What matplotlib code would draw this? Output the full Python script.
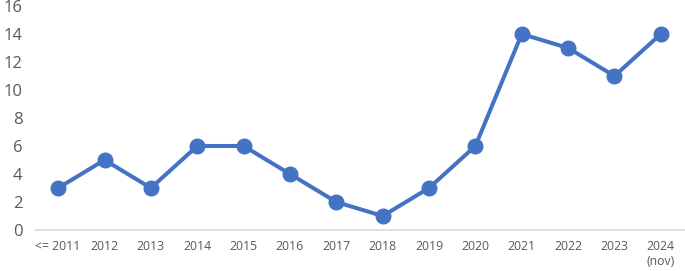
import matplotlib
matplotlib.use("Agg")
import matplotlib.pyplot as plt

categories = ["<= 2011", "2012", "2013", "2014", "2015", "2016", "2017", "2018",
              "2019", "2020", "2021", "2022", "2023", "2024\n(nov)"]
values = [3, 5, 3, 6, 6, 4, 2, 1, 3, 6, 14, 13, 11, 14]
yticks = [0, 2, 4, 6, 8, 10, 12, 14, 16]

plt.rcParams['font.family'] = ['Open Sans', 'DejaVu Sans']
fig = plt.figure(figsize=(6.85, 2.71), dpi=100)
ax = fig.add_axes([35/685, 41/271, 649/685, 224/271])
x = list(range(len(categories)))
ax.plot(x, values, color="#4472C4", linewidth=2.9, marker="o", markersize=10.5,
        solid_capstyle="round", clip_on=False)
ax.set_xlim(-0.5, len(categories) - 0.5)
ax.set_ylim(0, 16)
ax.set_yticks(yticks)
ax.set_yticklabels([str(t) for t in yticks], fontsize=12, color="#595959")
ax.set_xticks(x)
ax.set_xticklabels(categories, fontsize=8.8, color="#595959", va="top", linespacing=1.2)
for s in ["top", "right", "left"]:
    ax.spines[s].set_visible(False)
ax.spines["bottom"].set_color("#D9D9D9")
ax.spines["bottom"].set_linewidth(1.2)
ax.tick_params(axis="both", length=0)
ax.tick_params(axis="y", pad=9)
ax.tick_params(axis="x", pad=7)
fig.savefig("out.png", dpi=100)
